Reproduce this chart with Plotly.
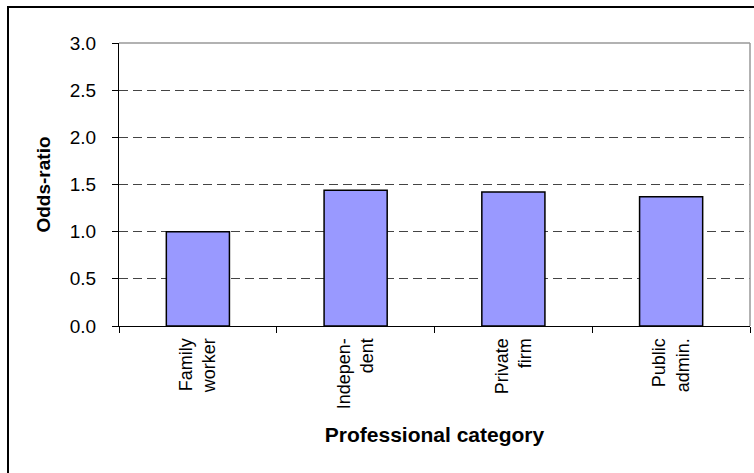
import plotly.graph_objects as go

categories = ["Family<br>worker", "Indepen-<br>dent", "Private<br>firm", "Public<br>admin."]
odds_ratio = [1.00, 1.44, 1.42, 1.37]
y_ticks = [0.0, 0.5, 1.0, 1.5, 2.0, 2.5, 3.0]

FONT = "Liberation Sans, Arial, sans-serif"

fig = go.Figure()
fig.add_trace(go.Bar(
    x=categories,
    y=odds_ratio,
    width=0.4,
    marker=dict(color="#9999FF", line=dict(color="#000000", width=1.5)),
))

W, H = 754, 473
L, R, T, B = 119, 4, 43, 147
pw = W - L - R
ph = H - T - B

def px_to_paper_x(px):
    return (px - L) / pw

def px_to_paper_y(py):
    return (H - B - py) / ph

fig.update_layout(
    width=W, height=H,
    margin=dict(l=L, r=R, t=T, b=B, autoexpand=False),
    paper_bgcolor="white",
    plot_bgcolor="white",
    showlegend=False,
    font=dict(family=FONT, color="black"),
    xaxis=dict(
        type="category",
        tickson="boundaries",
        ticks="outside",
        ticklen=6,
        tickcolor="black",
        tickangle=-90,
        tickfont=dict(size=18, family=FONT),
        ticklabelstandoff=4,
        showline=True,
        linecolor="black",
        linewidth=1,
        showgrid=False,
        title=dict(text="<b>Professional category</b>", font=dict(size=21, family=FONT), standoff=19),
        automargin=False,
    ),
    yaxis=dict(
        range=[0, 3],
        tickvals=y_ticks,
        tickformat=".1f",
        ticks="outside",
        ticklen=6,
        tickcolor="black",
        tickfont=dict(size=19, family=FONT),
        ticklabelstandoff=12,
        showline=True,
        linecolor="black",
        linewidth=1,
        showgrid=True,
        gridcolor="#444444",
        gridwidth=1,
        griddash="9px,5px",
        zeroline=False,
        title=dict(text="<b>Odds-ratio</b>", font=dict(size=19, family=FONT), standoff=14),
        automargin=False,
    ),
    shapes=[
        dict(type="line", xref="paper", yref="paper", x0=0, x1=1, y0=1, y1=1,
             line=dict(color="#999999", width=1.5)),
        dict(type="line", xref="paper", yref="paper", x0=1, x1=1, y0=0, y1=1,
             line=dict(color="#999999", width=1.5)),
        dict(type="rect", xref="paper", yref="paper",
             x0=px_to_paper_x(8), x1=px_to_paper_x(770),
             y0=px_to_paper_y(490), y1=px_to_paper_y(7),
             line=dict(color="black", width=2), fillcolor="rgba(0,0,0,0)"),
    ],
)

fig.write_html("out.html")
